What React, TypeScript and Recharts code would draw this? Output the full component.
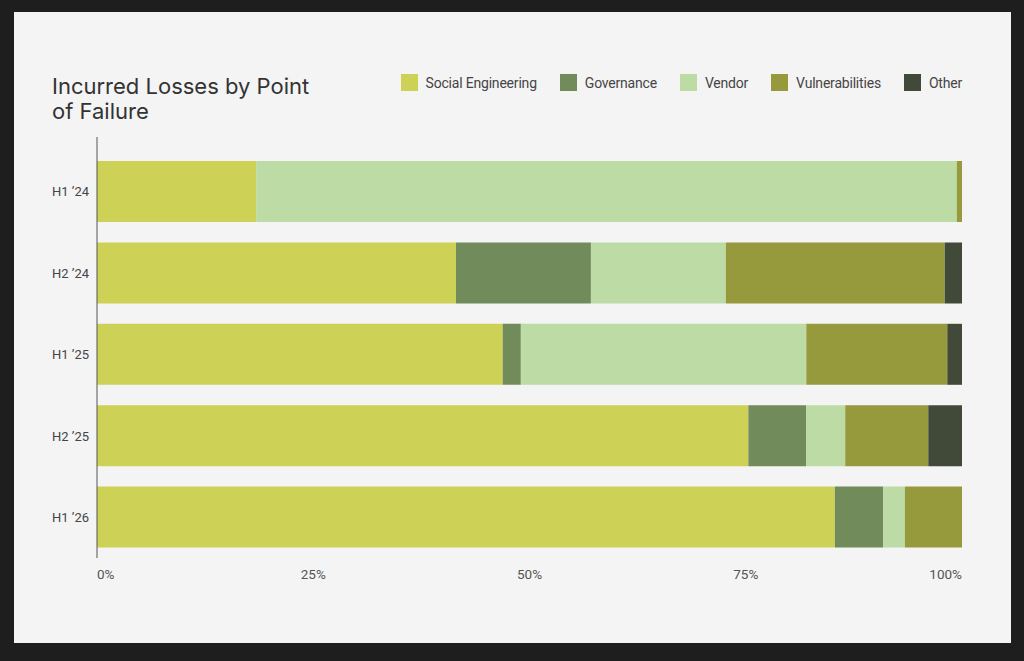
import React from 'react';
import { BarChart, Bar, XAxis, YAxis, Legend } from 'recharts';

const categories = ['H1 ’24', 'H2 ’24', 'H1 ’25', 'H2 ’25', 'H1 ’26'];
const socialEngineering = [18.4, 41.5, 46.9, 75.3, 85.3];
const governance = [0, 15.6, 2.1, 6.7, 5.6];
const vendor = [81.0, 15.6, 33.0, 4.5, 2.5];
const vulnerabilities = [0.6, 25.3, 16.3, 9.6, 6.6];
const other = [0, 2.0, 1.7, 3.9, 0];
const xTicks = [0, 25, 50, 75, 100];

const seriesKeys = ['Social Engineering', 'Governance', 'Vendor', 'Vulnerabilities', 'Other'];
const seriesColors = ['#cdd256', '#718c5a', '#bddba5', '#979a3c', '#414a38'];

const data = categories.map((c, i) => ({
  period: c,
  'Social Engineering': socialEngineering[i],
  Governance: governance[i],
  Vendor: vendor[i],
  Vulnerabilities: vulnerabilities[i],
  Other: other[i],
}));

const FONT = 'Roboto, "Noto Sans", sans-serif';

const YTick = (props: any) => {
  const { y, payload } = props;
  return (
    <text x={52} y={y} dy={4.6} textAnchor="start" fontFamily={FONT} fontSize={13} fill="#454545">
      {payload.value}
    </text>
  );
};

const XTick = (props: any) => {
  const { x, y, payload, index } = props;
  const anchor = index === 0 ? 'start' : index === xTicks.length - 1 ? 'end' : 'middle';
  return (
    <text x={x} y={y} dy={21} textAnchor={anchor} fontFamily={FONT} fontSize={13.5} fill="#555">
      {`${payload.value}%`}
    </text>
  );
};

const LegendContent = () => (
  <div style={{ display: 'flex', alignItems: 'center', fontFamily: FONT, fontSize: 14, color: '#454545' }}>
    {seriesKeys.map((k, i) => (
      <div key={k} style={{ display: 'flex', alignItems: 'center', marginLeft: i === 0 ? 0 : 23 }}>
        <div style={{ width: 17, height: 17, background: seriesColors[i], marginRight: 8 }} />
        <span style={{ letterSpacing: -0.2 }}>{k}</span>
      </div>
    ))}
  </div>
);

export default function App() {
  return (
    <div style={{ position: 'absolute', left: 0, top: 0, width: 1024, height: 661, background: '#1e1e1e' }}>
      <div style={{ position: 'absolute', left: 14, top: 12, width: 997, height: 631, background: '#f4f4f4' }} />
      <div
        style={{
          position: 'absolute',
          left: 52,
          top: 74,
          fontFamily: 'Inter, sans-serif',
          fontSize: 22,
          lineHeight: '25px',
          color: '#333',
          letterSpacing: 0,
          width: 320,
        }}
      >
        Incurred Losses by Point
        <br />
        of Failure
      </div>
      <div style={{ position: 'absolute', left: 0, top: 0 }}>
        <BarChart
          width={1024}
          height={661}
          data={data}
          layout="vertical"
          margin={{ top: 137, right: 62, bottom: 73, left: 0 }}
          barSize={61}
        >
          <XAxis
            type="number"
            domain={[0, 100]}
            ticks={xTicks}
            axisLine={false}
            tickLine={false}
            tickSize={0}
            tickMargin={0}
            height={30}
            tick={<XTick />}
            interval={0}
          />
          <YAxis
            type="category"
            dataKey="period"
            width={97}
            axisLine={{ stroke: '#555', strokeWidth: 1 }}
            tickLine={false}
            tick={<YTick />}
            padding={{ top: 14, bottom: 0 }}
            interval={0}
          />
          <Legend
            layout="horizontal"
            verticalAlign="middle"
            align="center"
            content={<LegendContent />}
            wrapperStyle={{ top: 74, right: 62, left: 'auto', width: 'auto' }}
          />
          {seriesKeys.map((k, i) => (
            <Bar key={k} dataKey={k} stackId="a" fill={seriesColors[i]} isAnimationActive={false} />
          ))}
        </BarChart>
      </div>
    </div>
  );
}
